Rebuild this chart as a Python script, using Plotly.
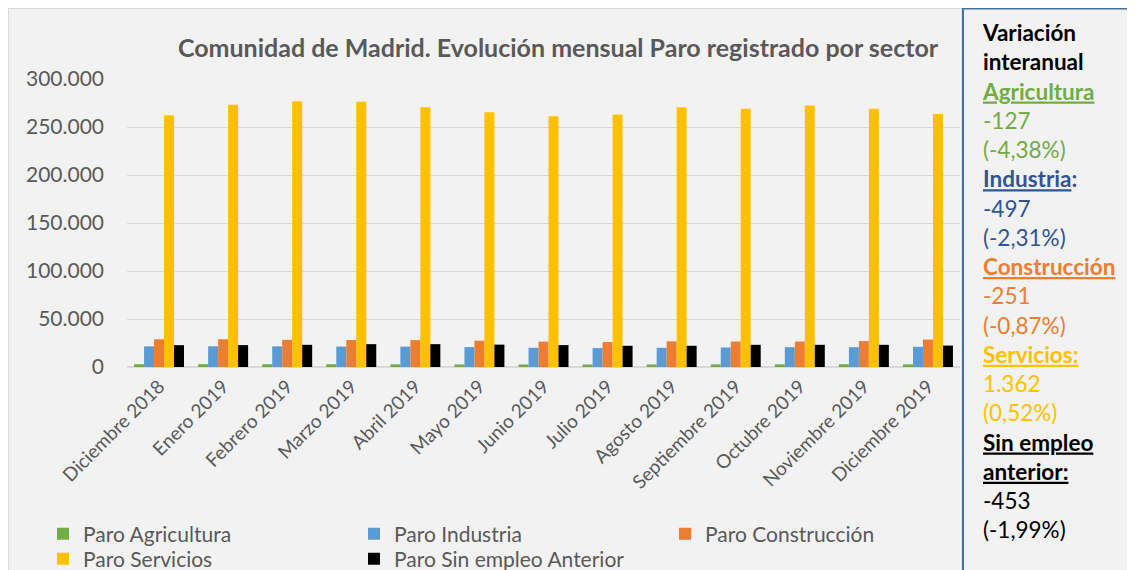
import plotly.graph_objects as go

categories = ["Diciembre 2018", "Enero 2019", "Febrero 2019", "Marzo 2019", "Abril 2019",
              "Mayo 2019", "Junio 2019", "Julio 2019", "Agosto 2019", "Septiembre 2019",
              "Octubre 2019", "Noviembre 2019", "Diciembre 2019"]
agricultura = [2900, 2950, 2920, 2870, 2800, 2700, 2600, 2650, 2700, 2750, 2800, 2850, 2773]
industria = [21515, 21600, 21500, 21300, 21200, 20700, 20000, 19700, 20000, 20300, 20600, 20600, 21018]
construccion = [28850, 28900, 28300, 28100, 28000, 27400, 26400, 26000, 26700, 26500, 26500, 27000, 28600]
servicios = [262200, 273300, 276800, 276400, 270500, 265300, 261100, 262900, 270500, 269100, 272300, 269100, 263500]
sin_empleo = [22760, 22800, 23100, 23800, 23800, 23300, 22800, 22100, 22100, 23100, 23100, 23100, 22310]

series = [
    ("Paro Agricultura", agricultura, "#70ad47", "legend"),
    ("Paro Industria", industria, "#5b9bd5", "legend"),
    ("Paro Construcción", construccion, "#ed7d31", "legend"),
    ("Paro Servicios", servicios, "#ffc000", "legend2"),
    ("Paro Sin empleo Anterior", sin_empleo, "#000000", "legend2"),
]

# figure is offset by the page's 8px body margin
W, H = 1127, 562
L, R, T, B = 119, 952, 71, 359  # plot area in figure pixels
FONT = "Lato"


def px(x):
    return (x - L) / (R - L)


def py(y):
    return (B - y) / (B - T)


fig = go.Figure()
for name, vals, col, leg in series:
    fig.add_trace(go.Bar(x=categories, y=vals, name=name, marker_color=col,
                         marker_line_width=0, legend=leg))

panel_lines = [
    "<b>Variación</b>",
    "<b>interanual</b>",
    "<span style='color:#70ad47'><b><u>Agricultura</u></b></span>",
    "<span style='color:#70ad47'>-127</span>",
    "<span style='color:#70ad47'>(-4,38%)</span>",
    "<span style='color:#2f5597'><b><u>Industria</u>:</b></span>",
    "<span style='color:#2f5597'>-497</span>",
    "<span style='color:#2f5597'>(-2,31%)</span>",
    "<span style='color:#ed7d31'><b><u>Construcción</u></b></span>",
    "<span style='color:#ed7d31'>-251</span>",
    "<span style='color:#ed7d31'>(-0,87%)</span>",
    "<span style='color:#ffc000'><b><u>Servicios:</u></b></span>",
    "<span style='color:#ffc000'>1.362</span>",
    "<span style='color:#ffc000'>(0,52%)</span>",
    "<b><u>Sin empleo</u></b>",
    "<b><u>anterior:</u></b>",
    "-453",
    "(-1,99%)",
]

shapes = [
    # chart border
    dict(type="rect", xref="paper", yref="paper", x0=px(0.5), x1=px(954), y0=py(H + 5), y1=py(0.5),
         fillcolor="rgba(0,0,0,0)", line=dict(color="#d9d9d9", width=1), layer="below"),
    # right panel
    dict(type="rect", xref="paper", yref="paper", x0=px(955), x1=px(W + 5), y0=py(H + 5), y1=py(0.5),
         fillcolor="#f2f2f2", line=dict(color="#41719c", width=2), layer="below"),
]

annotations = [
    dict(text="<br>".join(panel_lines), xref="paper", yref="paper", x=px(972), y=py(9),
         xanchor="left", yanchor="top", align="left", showarrow=False,
         font=dict(family=FONT, size=22.5, color="#000000")),
]

legend_common = dict(orientation="h", xanchor="left", yanchor="middle",
                     xref="paper", yref="paper",
                     entrywidth=266, entrywidthmode="pixels", bgcolor="rgba(0,0,0,0)",
                     font=dict(family=FONT, size=21, color="#595959"), traceorder="normal")

fig.update_layout(
    width=W, height=H,
    margin=dict(l=L, r=W - R, t=T, b=H - B, pad=0, autoexpand=False),
    paper_bgcolor="#f2f2f2", plot_bgcolor="#f2f2f2",
    separators=",.",
    barmode="group", bargap=0.22, bargroupgap=0,
    title=dict(text="<b>Comunidad de Madrid. Evolución mensual Paro registrado por sector</b>",
               x=550 / W, xanchor="center", xref="container", y=1 - 40 / H, yanchor="middle",
               yref="container",
               font=dict(family=FONT, size=25, color="#595959")),
    font=dict(family=FONT, color="#595959"),
    xaxis=dict(type="category", tickangle=-45, tickfont=dict(family=FONT, size=19, color="#595959"),
               showgrid=False, showline=True, linecolor="#d9d9d9", linewidth=1, ticks=""),
    yaxis=dict(range=[0, 300000], dtick=50000, tickformat=",d", showgrid=True,
               gridcolor="#d9d9d9", gridwidth=1, zeroline=True, zerolinecolor="#d9d9d9",
               tickfont=dict(family=FONT, size=21, color="#595959"), ticklabelstandoff=22,
               showline=False, ticks=""),
    legend=dict(x=px(35), y=py(526), **legend_common),
    legend2=dict(x=px(35), y=py(551), **legend_common),
    shapes=shapes,
    annotations=annotations,
)

fig.write_html("out.html")
